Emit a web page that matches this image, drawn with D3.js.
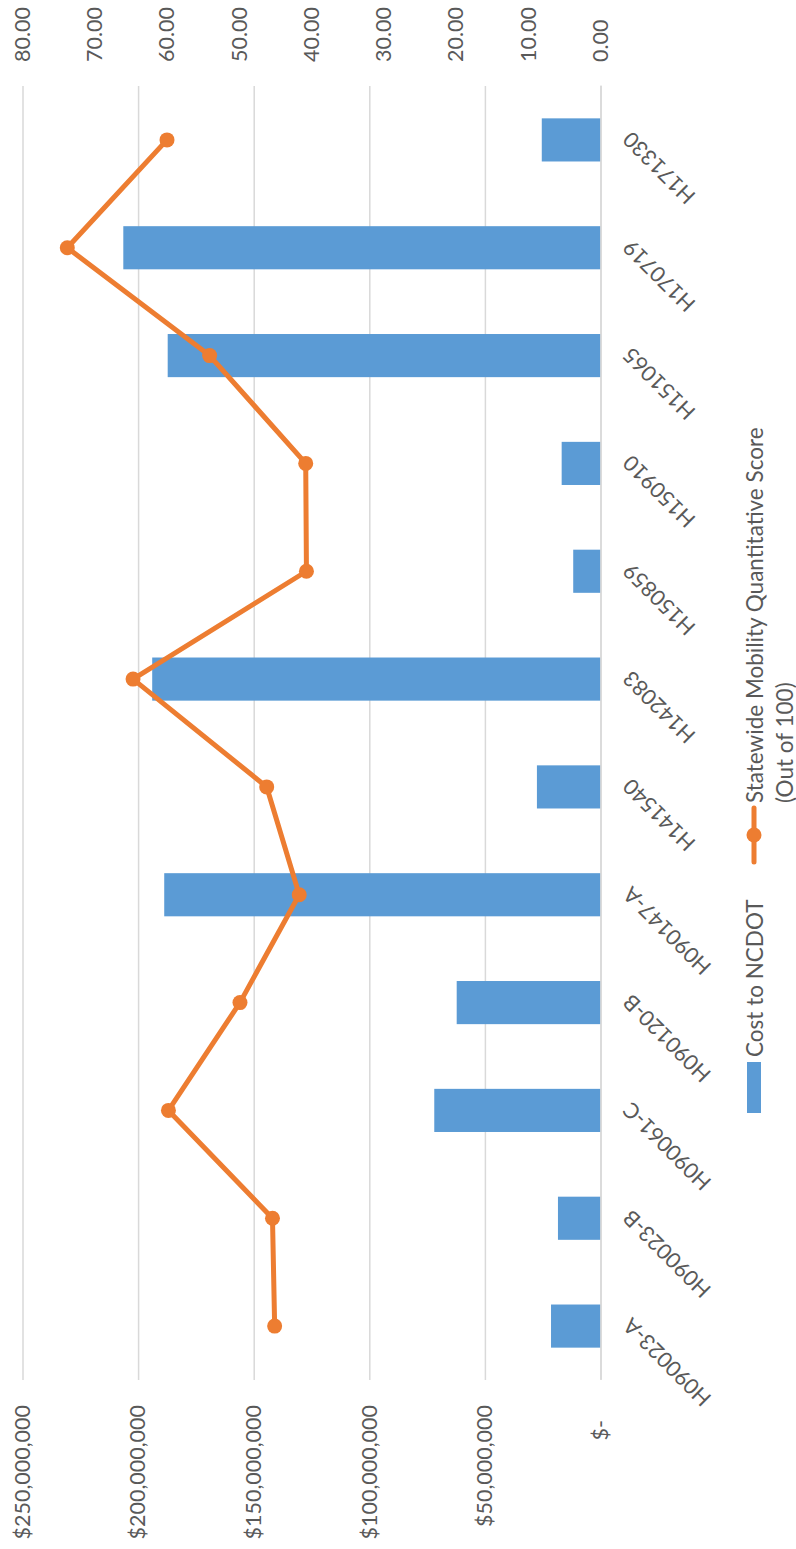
<!DOCTYPE html>
<html>
<head>
<meta charset="utf-8">
<script src="https://cdn.jsdelivr.net/npm/d3@7"></script>
<style>
html,body{margin:0;padding:0;background:#fff;}
svg{display:block;}
text{font-family:Lato,"Open Sans",sans-serif;fill:#595959;}
</style>
</head>
<body>
<svg id="chart" width="796" height="1549"></svg>
<script>
const categories = ["H090023-A","H090023-B","H090061-C","H090120-B","H090147-A","H141540","H142083","H150859","H150910","H151065","H170719","H171330"];
const costToNCDOT = [21.4e6,18.4e6,71.9e6,62.2e6,188.7e6,27.5e6,193.9e6,11.8e6,16.8e6,187.2e6,206.4e6,25.4e6];
const mobilityScore = [45.1,45.4,59.8,49.9,41.7,46.2,64.7,40.7,40.8,54.1,73.8,60.0];
const costTicks = [0,50e6,100e6,150e6,200e6,250e6];
const scoreTicks = [0,10,20,30,40,50,60,70,80];
const seriesNames = ["Cost to NCDOT","Statewide Mobility Quantitative Score","(Out of 100)"];

const W = 1549, H = 796;
const svg = d3.select("#chart");
// chart is drawn in landscape and rotated 90° counter-clockwise
const g = svg.append("g").attr("transform", `translate(0,${W}) rotate(-90)`);

const plot = {left:169, right:1463, top:22.5, bottom:600.5};
const x = d3.scaleBand().domain(categories).range([plot.left, plot.right]).paddingInner(0.6).paddingOuter(0.3);
const yCost = d3.scaleLinear().domain([0,250e6]).range([plot.bottom, plot.top]);
const yScore = d3.scaleLinear().domain([0,80]).range([plot.bottom, plot.top]);

const blue = "#5B9BD5", orange = "#ED7D31", grid = "#d9d9d9";
const fs = 21.5;

// gridlines
const gridAxis = g.append("g").attr("transform", `translate(${plot.left},0)`)
  .call(d3.axisLeft(yCost).tickValues(costTicks).tickSize(-(plot.right-plot.left)).tickFormat(""));
gridAxis.select(".domain").remove();
gridAxis.selectAll(".tick line").attr("stroke", grid).attr("stroke-width", 1.5);

// left axis labels
const fmtCost = v => v === 0 ? "$-" : "$" + d3.format(",")(v);
const leftAxis = g.append("g").attr("transform", `translate(${plot.left},0)`)
  .call(d3.axisLeft(yCost).tickValues(costTicks).tickSize(0).tickPadding(25).tickFormat(fmtCost));
leftAxis.select(".domain").remove();
leftAxis.selectAll("text").attr("font-size", fs).attr("font-family", "Lato").attr("fill", "#595959")
  .attr("dx", d => d === 0 ? -15 : 0);

// right axis labels
const rightAxis = g.append("g").attr("transform", `translate(${plot.right},0)`)
  .call(d3.axisRight(yScore).tickValues(scoreTicks).tickSize(0).tickPadding(24).tickFormat(d3.format(".2f")));
rightAxis.select(".domain").remove();
rightAxis.selectAll("text").attr("font-size", fs).attr("font-family", "Lato").attr("fill", "#595959");

// bars
g.append("g").selectAll("rect").data(categories).join("rect")
  .attr("x", d => x(d))
  .attr("width", x.bandwidth())
  .attr("y", (d,i) => yCost(costToNCDOT[i]))
  .attr("height", (d,i) => yCost(0) - yCost(costToNCDOT[i]))
  .attr("fill", blue);

// category axis
const catAxis = g.append("g").attr("transform", `translate(0,${plot.bottom})`)
  .call(d3.axisBottom(x).tickSize(0).tickPadding(0));
catAxis.select(".domain").attr("stroke", grid).attr("stroke-width", 1.5);
catAxis.selectAll("text")
  .attr("font-size", fs).attr("font-family", "Lato").attr("fill", "#595959")
  .attr("text-anchor", "end")
  .attr("y", 0).attr("dy", 0)
  .attr("transform", "translate(4,26) rotate(-45)")
  .attr("dominant-baseline", "central");

// line
const cx = d => x(d) + x.bandwidth()/2;
const line = d3.line().x(d => cx(d)).y((d,i) => yScore(mobilityScore[i]));
g.append("path").datum(categories).attr("d", line)
  .attr("fill", "none").attr("stroke", orange).attr("stroke-width", 5).attr("stroke-linejoin", "round");
g.append("g").selectAll("circle").data(categories).join("circle")
  .attr("cx", d => cx(d)).attr("cy", (d,i) => yScore(mobilityScore[i])).attr("r", 7.5).attr("fill", orange);

// legend
const lg = g.append("g");
lg.append("rect").attr("x", 436).attr("y", 747).attr("width", 51).attr("height", 14).attr("fill", blue);
lg.append("text").attr("x", 492).attr("y", 754).attr("dominant-baseline", "central")
  .attr("font-size", fs+1).text(seriesNames[0]);
lg.append("line").attr("x1", 687).attr("x2", 741).attr("y1", 754).attr("y2", 754)
  .attr("stroke", orange).attr("stroke-width", 5).attr("stroke-linecap", "round");
lg.append("circle").attr("cx", 714).attr("cy", 754).attr("r", 7.5).attr("fill", orange);
lg.append("text").attr("x", 746).attr("y", 754).attr("dominant-baseline", "central")
  .attr("font-size", fs+1).text(seriesNames[1]);
lg.append("text").attr("x", 746).attr("y", 784).attr("dominant-baseline", "central")
  .attr("font-size", fs+1).text(seriesNames[2]);
</script>
</body>
</html>
